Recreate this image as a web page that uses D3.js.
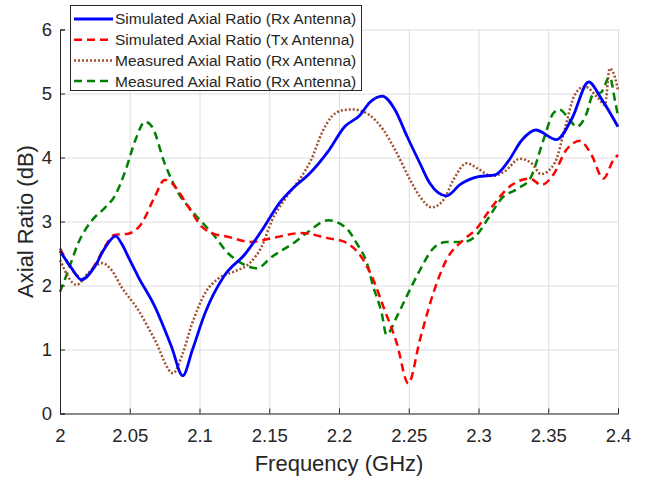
<!DOCTYPE html>
<html>
<head>
<meta charset="utf-8">
<script src="https://cdn.jsdelivr.net/npm/d3@7"></script>
<style>
  html, body { margin: 0; padding: 0; background: #fff; }
  svg { display: block; font-family: 'Liberation Sans', Arial, Helvetica, sans-serif; }
</style>
</head>
<body>
<div id="chart"></div>
<script>
// #region Data
const xTicks = [2, 2.05, 2.1, 2.15, 2.2, 2.25, 2.3, 2.35, 2.4];
const yTicks = [0, 1, 2, 3, 4, 5, 6];

const simRxFreq = [2.000, 2.008, 2.0155, 2.025, 2.032, 2.040, 2.044, 2.050, 2.056, 2.068, 2.080, 2.088, 2.095, 2.104,
  2.118, 2.133, 2.145, 2.157, 2.168, 2.178, 2.193, 2.204, 2.215, 2.222, 2.231, 2.240, 2.249, 2.258, 2.265, 2.277,
  2.287, 2.300, 2.312, 2.321, 2.331, 2.341, 2.356, 2.367, 2.379, 2.388, 2.400];
const simRxAR = [2.54, 2.28, 2.09, 2.30, 2.58, 2.77, 2.66, 2.40, 2.14, 1.67, 1.04, 0.59, 1.00, 1.57,
  2.16, 2.50, 2.87, 3.28, 3.54, 3.73, 4.12, 4.48, 4.66, 4.86, 4.96, 4.75, 4.32, 3.91, 3.60, 3.40,
  3.58, 3.70, 3.73, 3.93, 4.27, 4.43, 4.28, 4.61, 5.18, 4.92, 4.48];

const simTxFreq = [2.000, 2.0167, 2.025, 2.032, 2.039, 2.049, 2.0585, 2.068, 2.075, 2.080, 2.092, 2.1016, 2.1087,
  2.1207, 2.137, 2.152, 2.173, 2.192, 2.204, 2.2174, 2.2246, 2.2318, 2.2414, 2.2497, 2.258, 2.2676, 2.277, 2.289,
  2.2987, 2.307, 2.3238, 2.337, 2.345, 2.3536, 2.363, 2.3728, 2.381, 2.3895, 2.3967, 2.400];
const simTxAR = [2.58, 2.11, 2.32, 2.60, 2.79, 2.81, 2.97, 3.39, 3.65, 3.60, 3.23, 2.92, 2.82,
  2.76, 2.68, 2.74, 2.82, 2.74, 2.68, 2.40, 2.09, 1.67, 1.10, 0.47, 1.15, 1.88, 2.40, 2.71,
  2.89, 3.15, 3.57, 3.67, 3.57, 3.73, 4.12, 4.26, 4.04, 3.67, 3.96, 4.04];

const measRxFreq = [2.000, 2.012, 2.020, 2.030, 2.037, 2.044, 2.056, 2.068, 2.081, 2.088, 2.094, 2.104, 2.1135,
  2.125, 2.136, 2.1446, 2.152, 2.161, 2.173, 2.180, 2.1876, 2.1948, 2.203, 2.210, 2.222, 2.2318, 2.2414, 2.251,
  2.258, 2.2664, 2.275, 2.282, 2.2915, 2.300, 2.3095, 2.3186, 2.3297, 2.338, 2.345, 2.355, 2.362, 2.369, 2.376,
  2.386, 2.3907, 2.394, 2.398, 2.400];
const measRxAR = [2.40, 2.01, 2.19, 2.35, 2.24, 1.98, 1.62, 1.15, 0.63, 0.94, 1.36, 1.88, 2.11,
  2.22, 2.35, 2.61, 3.02, 3.34, 3.70, 3.96, 4.38, 4.64, 4.74, 4.75, 4.66, 4.43, 4.07, 3.65,
  3.39, 3.22, 3.34, 3.65, 3.91, 3.82, 3.71, 3.78, 3.98, 3.91, 3.74, 3.93, 4.46, 4.98, 5.11,
  4.92, 4.82, 5.39, 5.24, 5.05];

const measRx2Freq = [2.000, 2.006, 2.013, 2.023, 2.032, 2.039, 2.047, 2.054, 2.061, 2.066, 2.075, 2.085, 2.094,
  2.1004, 2.109, 2.1207, 2.130, 2.141, 2.152, 2.1685, 2.178, 2.1923, 2.2055, 2.2127, 2.220, 2.2246, 2.2306, 2.234,
  2.2414, 2.2485, 2.258, 2.2676, 2.277, 2.289, 2.2987, 2.307, 2.3166, 2.3286, 2.337, 2.3465, 2.3536, 2.358, 2.365,
  2.3704, 2.3775, 2.382, 2.388, 2.394, 2.398, 2.400];
const measRx2AR = [1.90, 2.24, 2.66, 3.02, 3.21, 3.39, 3.80, 4.27, 4.56, 4.48, 3.91, 3.44, 3.18,
  3.02, 2.82, 2.50, 2.35, 2.27, 2.45, 2.68, 2.84, 3.02, 2.89, 2.66, 2.35, 1.98, 1.57, 1.23,
  1.51, 1.83, 2.24, 2.58, 2.68, 2.68, 2.79, 3.05, 3.36, 3.52, 3.67, 4.27, 4.69, 4.75, 4.60,
  4.48, 4.69, 4.98, 5.02, 5.26, 4.87, 4.65];

const seriesNames = [
  'Simulated Axial Ratio (Rx Antenna)',
  'Simulated Axial Ratio (Tx Antenna)',
  'Measured Axial Ratio (Rx Antenna)',
  'Measured Axial Ratio (Rx Antenna)',
];
// #endregion

// #region Setup
const width = 645;
const height = 478;
const plot = { left: 60, right: 618, top: 29.5, bottom: 413.5 };
const textColor = '#262626';

const svg = d3.select('#chart').append('svg').attr('width', width).attr('height', height);

const x = d3.scaleLinear().domain([2, 2.4]).range([plot.left, plot.right]);
const y = d3.scaleLinear().domain([0, 6]).range([plot.bottom, plot.top]);
// #endregion

// #region Grid
svg.append('g')
  .attr('transform', `translate(0, ${plot.bottom})`)
  .call(d3.axisBottom(x).tickValues(xTicks).tickSize(-(plot.bottom - plot.top)).tickFormat(''))
  .call(g => g.select('.domain').remove())
  .call(g => g.selectAll('line').attr('stroke', '#dedede').attr('stroke-width', 1));

svg.append('g')
  .attr('transform', `translate(${plot.left}, 0)`)
  .call(d3.axisLeft(y).tickValues(yTicks).tickSize(-(plot.right - plot.left)).tickFormat(''))
  .call(g => g.select('.domain').remove())
  .call(g => g.selectAll('line').attr('stroke', '#dedede').attr('stroke-width', 1));
// #endregion

// #region Lines
const series = [
  { f: simRxFreq, v: simRxAR, color: '#0000ff', width: 2.8, dash: null },
  { f: simTxFreq, v: simTxAR, color: '#ff0000', width: 2.5, dash: '8,5' },
  { f: measRxFreq, v: measRxAR, color: '#a0522d', width: 2.5, dash: '2,2' },
  { f: measRx2Freq, v: measRx2AR, color: '#008000', width: 2.5, dash: '8,5' },
];

const line = d3.line()
  .x(d => x(d[0]))
  .y(d => y(d[1]))
  .curve(d3.curveMonotoneX);

// measured ones first so the simulated solid line sits on top like the reference
[3, 2, 1, 0].forEach(i => {
  const s = series[i];
  svg.append('path')
    .datum(d3.zip(s.f, s.v))
    .attr('d', line)
    .attr('fill', 'none')
    .attr('stroke', s.color)
    .attr('stroke-width', s.width)
    .attr('stroke-dasharray', s.dash)
    .attr('stroke-linejoin', 'round');
});
// #endregion

// #region Axes
const xAxis = svg.append('g')
  .attr('transform', `translate(0, ${plot.bottom})`)
  .call(d3.axisBottom(x).tickValues(xTicks).tickSize(-5).tickPadding(15).tickFormat(d3.format('')));

const yAxis = svg.append('g')
  .attr('transform', `translate(${plot.left}, 0)`)
  .call(d3.axisLeft(y).tickValues(yTicks).tickSize(-5).tickPadding(8).tickFormat(d3.format('')));

[xAxis, yAxis].forEach(a => {
  a.select('.domain').attr('stroke', textColor).attr('stroke-width', 1);
  a.selectAll('.tick line').attr('stroke', textColor);
  a.selectAll('.tick text')
    .attr('fill', textColor)
    .style('font-size', '18.5px')
    .style('font-family', "'Liberation Sans', Arial, Helvetica, sans-serif");
});
// #endregion

// #region Axis labels
svg.append('text')
  .attr('x', (plot.left + plot.right) / 2)
  .attr('y', 471)
  .attr('text-anchor', 'middle')
  .attr('fill', textColor)
  .style('font-size', '22px')
  .text('Frequency (GHz)');

svg.append('text')
  .attr('transform', `translate(33, ${(plot.top + plot.bottom) / 2}) rotate(-90)`)
  .attr('text-anchor', 'middle')
  .attr('fill', textColor)
  .style('font-size', '22px')
  .text('Axial Ratio (dB)');
// #endregion

// #region Legend
const legend = svg.append('g');

legend.append('rect')
  .attr('x', 70.5)
  .attr('y', 5.5)
  .attr('width', 291)
  .attr('height', 85)
  .attr('fill', '#fff')
  .attr('stroke', textColor)
  .attr('stroke-width', 1);

const rows = legend.selectAll('g.row')
  .data(seriesNames)
  .enter()
  .append('g')
  .attr('class', 'row')
  .attr('transform', (d, i) => `translate(0, ${19 + i * 20.7})`);

rows.append('line')
  .attr('x1', 74)
  .attr('x2', 113)
  .attr('stroke', (d, i) => series[i].color)
  .attr('stroke-width', (d, i) => series[i].width)
  .attr('stroke-dasharray', (d, i) => series[i].dash);

rows.append('text')
  .attr('x', 115)
  .attr('dy', '0.35em')
  .attr('fill', textColor)
  .style('font-size', '15.5px')
  .text(d => d);
// #endregion
</script>
</body>
</html>
